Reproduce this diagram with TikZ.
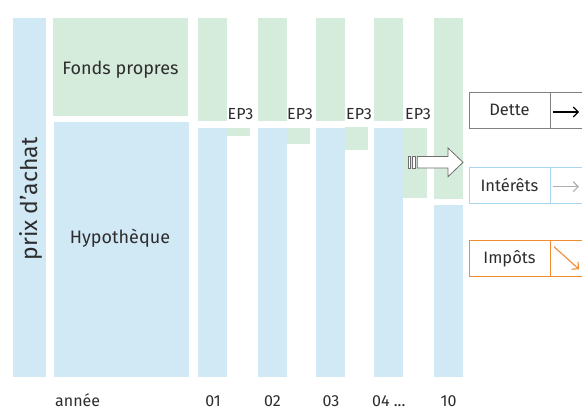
\documentclass[tikz,border=0pt]{standalone}
\usepackage{fontspec}
\setmainfont{Fira Sans}
\usetikzlibrary{arrows.meta}
\definecolor{cblue}{RGB}{209,232,245}
\definecolor{cgreen}{RGB}{213,235,220}
\definecolor{ctext}{RGB}{45,45,45}
\definecolor{cgray}{RGB}{128,128,128}
\definecolor{clblue}{RGB}{168,214,238}
\definecolor{corange}{RGB}{240,140,50}
\definecolor{carrowgray}{RGB}{175,175,175}
\definecolor{chollow}{RGB}{110,110,110}
\begin{document}
\begin{tikzpicture}[x=1pt,y=-1pt,
  blk/.style={fill=cblue,draw=none},
  grn/.style={fill=cgreen,draw=none},
  lbl/.style={text=ctext,font=\fontsize{18}{20}\selectfont,inner sep=0pt},
  eplbl/.style={text=ctext,font=\fontsize{16}{18}\selectfont,inner sep=0pt},
  yrlbl/.style={text=ctext,font=\fontsize{16}{18}\selectfont,inner sep=0pt,anchor=base,text depth=0pt},
  legbox/.style={draw,line width=1pt,minimum height=36pt,inner sep=0pt,text=ctext,font=\fontsize{16.5}{18}\selectfont},
  legarr/.style={draw,line width=1pt,minimum width=34pt,minimum height=36pt,inner sep=0pt},
  barb/.style={-{Straight Barb[length=5pt,width=10pt]},line width=1.1pt},
]
\useasboundingbox[fill=white] (0,0) rectangle (582,410);
% purchase price column
\fill[blk] (13,18) rectangle (46,377);
\node[lbl,rotate=90,font=\fontsize{23}{25}\selectfont] (prix) at (31,199) {prix d’achat};
% equity and mortgage
\fill[grn] (53,18) rectangle (188,116);
\node[lbl] (fp) at (120.5,70) {Fonds propres};
\fill[blk] (54,122) rectangle (189,377);
\node[lbl] (hyp) at (120,238) {Hypothèque};
% year 01
\fill[grn] (198,18) rectangle (227,121);
\fill[grn] (227,128) rectangle (250,136);
\fill[blk] (198,128) rectangle (227,377);
\node[eplbl] (ep1) at (240.5,114) {EP3};
% year 02
\fill[grn] (258,18) rectangle (287,121);
\fill[grn] (287,128) rectangle (310,144);
\fill[blk] (258,128) rectangle (287,377);
\node[eplbl] (ep2) at (300,114) {EP3};
% year 03
\fill[grn] (316,18) rectangle (345,121);
\fill[grn] (345,127) rectangle (368,150);
\fill[blk] (316,128) rectangle (345,377);
\node[eplbl] (ep3) at (359,114) {EP3};
% year 04
\fill[grn] (374,18) rectangle (403,121);
\fill[grn] (403,128) rectangle (427,198);
\fill[blk] (374,128) rectangle (403,377);
\node[eplbl] (ep4) at (418,114) {EP3};
% year 10
\fill[grn] (434,18) rectangle (463,199);
\fill[blk] (434,205) rectangle (463,377);
% hollow arrow
\begin{scope}[draw=chollow,line width=0.8pt,fill=white]
\filldraw (408.3,156.5) rectangle (410.7,168);
\filldraw (412.7,156.5) rectangle (415.3,168);
\filldraw (417.3,156.5) -- (448,156.5) -- (448,148) -- (463,162.3) -- (448,176.7) -- (448,168) -- (417.3,168) -- cycle;
\end{scope}
% legend
\node[legbox,draw=cgray,minimum width=81pt] (dette) at (509.5,110.3) {Dette};
\node[legarr,draw=cgray] (dettea) at (567,110.3) {};
\coordinate (da1) at (553,112);
\coordinate (da2) at (579,112);
\draw[barb,black] (da1) -- (da2);
\node[legbox,draw=clblue,minimum width=81pt] (int) at (509.5,185.3) {Intérêts};
\node[legarr,draw=clblue] (inta) at (567,185.3) {};
\coordinate (ia1) at (553,186.7);
\coordinate (ia2) at (579,186.7);
\draw[barb,carrowgray] (ia1) -- (ia2);
\node[legbox,draw=corange,minimum width=81pt] (imp) at (509.5,258.7) {Impôts};
\node[legarr,draw=corange] (impa) at (567,258.7) {};
\coordinate (oa1) at (554,246.7);
\coordinate (oa2) at (579,269.3);
\draw[barb,corange] (oa1) -- (oa2);
% years
\node[yrlbl,anchor=base west] (annee) at (55,406.5) {année};
\node[yrlbl] (y1) at (213,406.5) {01};
\node[yrlbl] (y2) at (272.5,406.5) {02};
\node[yrlbl] (y3) at (331,406.5) {03};
\node[yrlbl,anchor=base west] (y4) at (372,406.5) {04 ...};
\node[yrlbl] (y10) at (448.5,406.5) {10};
\end{tikzpicture}
\end{document}
